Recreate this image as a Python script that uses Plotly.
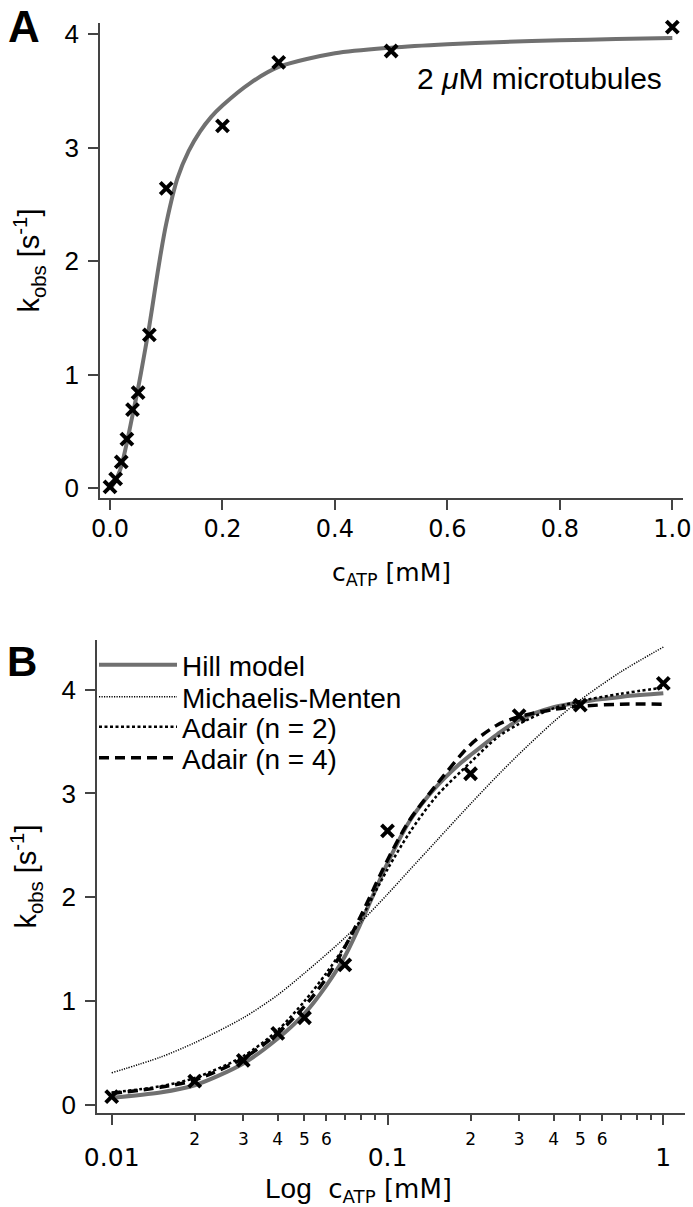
import plotly.graph_objects as go

# ---- data ----
atp_mM = [0.0, 0.01, 0.02, 0.03, 0.04, 0.05, 0.07, 0.1, 0.2, 0.3, 0.5, 1.0]
kobs = [0.01, 0.08, 0.23, 0.43, 0.69, 0.84, 1.35, 2.64, 3.19, 3.75, 3.85, 4.06]

hill_x = [0.003, 0.01, 0.015, 0.02, 0.03, 0.04, 0.05, 0.06, 0.07, 0.08, 0.09, 0.1,
          0.12, 0.14, 0.16, 0.18, 0.2, 0.25, 0.3, 0.4, 0.5, 0.6, 0.7, 0.8, 0.9, 1.0]
hill_y = [0.01, 0.07, 0.12, 0.19, 0.40, 0.64, 0.88, 1.15, 1.43, 1.75, 2.06, 2.33,
          2.73, 2.97, 3.14, 3.27, 3.37, 3.57, 3.71, 3.83, 3.88, 3.91, 3.93, 3.945, 3.955, 3.965]

fit_x = [0.01, 0.015, 0.02, 0.03, 0.04, 0.05, 0.06, 0.07, 0.08, 0.1, 0.12, 0.15,
         0.2, 0.25, 0.3, 0.4, 0.5, 0.7, 1.0]
mm_y = [0.31, 0.46, 0.60, 0.84, 1.06, 1.27, 1.45, 1.61, 1.76, 2.03, 2.26, 2.54,
        2.90, 3.17, 3.38, 3.69, 3.90, 4.17, 4.41]
adair2_y = [0.12, 0.18, 0.26, 0.47, 0.72, 1.00, 1.27, 1.53, 1.79, 2.27, 2.62, 2.97,
            3.30, 3.54, 3.67, 3.82, 3.89, 3.96, 4.02]
adair4_y = [0.11, 0.17, 0.24, 0.45, 0.69, 0.95, 1.22, 1.52, 1.82, 2.36, 2.74, 3.08,
            3.47, 3.66, 3.74, 3.81, 3.84, 3.86, 3.86]

a_xticks = [0.0, 0.2, 0.4, 0.6, 0.8, 1.0]
a_xticktext = ["0.0", "0.2", "0.4", "0.6", "0.8", "1.0"]
k_ticks = [0, 1, 2, 3, 4]
b_labeled_ticks = [0.02, 0.03, 0.04, 0.05, 0.06, 0.2, 0.3, 0.4, 0.5, 0.6]
b_labeled_text = ["2", "3", "4", "5", "6", "2", "3", "4", "5", "6"]
b_unlabeled_ticks = [0.07, 0.08, 0.09, 0.7, 0.8, 0.9]
b_major_ticks = [0.01, 0.1, 1]
b_major_text = ["0.01", "0.1", "1"]

W, H = 693, 1207
HELV = "Liberation Sans, Arial, sans-serif"
LUC = "DejaVu Sans, sans-serif"
AX = "#444444"
GRAY = "#707070"

fig = go.Figure()

marker_style = dict(symbol="x-thin", size=12, line=dict(width=4, color="black"), color="black")

# Panel A
fig.add_trace(go.Scatter(x=hill_x, y=hill_y, mode="lines",
                         line=dict(color=GRAY, width=4, shape="spline", smoothing=0.8),
                         xaxis="x", yaxis="y", showlegend=False, hoverinfo="skip"))
fig.add_trace(go.Scatter(x=atp_mM, y=kobs, mode="markers", marker=marker_style, cliponaxis=False,
                         xaxis="x", yaxis="y", showlegend=False))

# Panel B
fig.add_trace(go.Scatter(x=hill_x[1:], y=hill_y[1:], mode="lines", name="Hill model", legend="legend",
                         line=dict(color=GRAY, width=4, shape="spline", smoothing=0.8), xaxis="x2", yaxis="y2"))
fig.add_trace(go.Scatter(x=fit_x, y=mm_y, mode="lines", name="Michaelis-Menten", legend="legend2",
                         line=dict(color="black", width=1.5, dash="1.2px,1.3px", shape="spline", smoothing=0.8),
                         xaxis="x2", yaxis="y2"))
fig.add_trace(go.Scatter(x=fit_x, y=adair2_y, mode="lines", name="Adair (n = 2)", legend="legend3",
                         line=dict(color="black", width=2.5, dash="3px,2.5px", shape="spline", smoothing=0.8),
                         xaxis="x2", yaxis="y2"))
fig.add_trace(go.Scatter(x=fit_x, y=adair4_y, mode="lines", name="Adair (n = 4)", legend="legend4",
                         line=dict(color="black", width=3.5, dash="10px,6px", shape="spline", smoothing=0.8),
                         xaxis="x2", yaxis="y2"))
fig.add_trace(go.Scatter(x=atp_mM[1:], y=kobs[1:], mode="markers", marker=marker_style, cliponaxis=False,
                         xaxis="x3", yaxis="y2", showlegend=False))

axis_common = dict(showline=True, linecolor=AX, linewidth=1.5, ticks="outside", tickcolor=AX,
                   tickwidth=1.5, showgrid=False, zeroline=False, mirror=False, automargin=False)

log_range = [-2.0533, 0.0786]


def legend_at(y_px):
    return dict(x=94 / W, y=1 - y_px / H, xanchor="left", yanchor="middle", bgcolor="rgba(0,0,0,0)",
                font=dict(family=HELV, size=28, color="black"), itemwidth=78, borderwidth=0)


fig.update_layout(
    width=W, height=H,
    margin=dict(l=0, r=0, t=0, b=0, autoexpand=False),
    paper_bgcolor="white", plot_bgcolor="white",
    xaxis=dict(domain=[100 / W, 683 / W], anchor="y", range=[-0.0178, 1.019],
               tickmode="array", tickvals=a_xticks, ticktext=a_xticktext, ticklen=10,
               tickfont=dict(family=LUC, size=24, color="black"), ticklabelstandoff=-2,
               title=dict(text="c<sub>ATP</sub> [mM]", font=dict(family=LUC, size=25, color="black"), standoff=22),
               **axis_common),
    yaxis=dict(domain=[1 - 498 / H, 1 - 23 / H], anchor="x", range=[-0.088, 4.097],
               tickmode="array", tickvals=k_ticks, ticklen=10,
               tickfont=dict(family=HELV, size=26, color="black"), ticklabelstandoff=4,
               title=dict(text="k<sub>obs</sub> [s<sup>-1</sup>]", font=dict(family=HELV, size=29, color="black"), standoff=16),
               **axis_common),
    xaxis2=dict(domain=[97 / W, 685 / W], anchor="y2", type="log", range=log_range,
                tickmode="array", tickvals=b_labeled_ticks, ticktext=b_labeled_text, ticklen=6,
                tickfont=dict(family=LUC, size=17, color="black"), ticklabelstandoff=4,
                minor=dict(tickmode="array", tickvals=b_unlabeled_ticks, ticklen=5, ticks="outside",
                           tickcolor=AX, tickwidth=1.5, showgrid=False),
                **axis_common),
    xaxis3=dict(overlaying="x2", anchor="y2", type="log", range=log_range, side="bottom",
                tickmode="array", tickvals=b_major_ticks, ticktext=b_major_text, ticklen=11,
                ticks="outside", tickcolor=AX, tickwidth=1.5, showgrid=False, zeroline=False, showline=False,
                automargin=False,
                tickfont=dict(family=LUC, size=25, color="black"), ticklabelstandoff=11),
    yaxis2=dict(domain=[1 - 1113 / H, 1 - 640 / H], anchor="x2", range=[-0.077, 4.478],
                tickmode="array", tickvals=k_ticks, ticklen=10,
                tickfont=dict(family=HELV, size=26, color="black"), ticklabelstandoff=4,
                title=dict(text="k<sub>obs</sub> [s<sup>-1</sup>]", font=dict(family=HELV, size=29, color="black"), standoff=16),
                **axis_common),
    legend=legend_at(665),
    legend2=legend_at(697),
    legend3=legend_at(727),
    legend4=legend_at(758),
    annotations=[
        dict(text="<b>A</b>", x=24 / W, y=1.0, xref="paper", yref="paper", xanchor="center",
             yanchor="top", showarrow=False, font=dict(family=HELV, size=44, color="black")),
        dict(text="<b>B</b>", x=22 / W, y=1 - 636 / H, xref="paper", yref="paper", xanchor="center",
             yanchor="top", showarrow=False, font=dict(family=HELV, size=42, color="black")),
        dict(text="2 <i>μ</i>M microtubules", x=0.763, y=3.61, xref="x", yref="y", xanchor="center",
             yanchor="middle", showarrow=False, font=dict(family=HELV, size=30, color="black")),
        dict(text="<span style='font-family:Liberation Sans;font-size:28px'>Log</span>\u00a0\u00a0c<sub>ATP</sub> [mM]",
             x=(358 - 97) / 588, y=1 - 1190 / H, xref="x2 domain", yref="paper", xanchor="center",
             yanchor="middle", showarrow=False, font=dict(family=LUC, size=26, color="black")),
    ],
)

fig.write_html("out.html", config={"displayModeBar": False},
               post_script="document.body.style.margin='0px';")
